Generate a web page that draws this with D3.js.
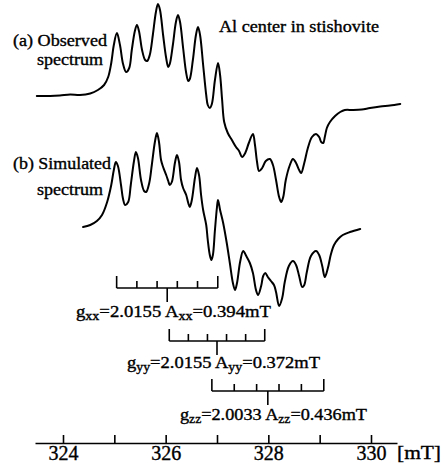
<!DOCTYPE html>
<html>
<head>
<meta charset="utf-8">
<script src="https://cdn.jsdelivr.net/npm/d3@7/dist/d3.min.js"></script>
<style>
  html, body { margin: 0; padding: 0; background: #fff; }
  svg { display: block; }
  text { font-family: "Liberation Serif", "Times New Roman", serif; fill: #000; stroke: #000; stroke-width: 0.35px; }
</style>
</head>
<body>
<svg id="chart" width="446" height="468"></svg>
<script>
// ---------- data ----------
// magnetic field (mT) and first-derivative EPR intensity (arbitrary units)
const observedField = [323.49,323.75,323.94,324.14,324.33,324.53,324.68,324.80,324.88,324.94,
  324.99,325.05,325.11,325.17,325.23,325.29,325.34,325.40,325.44,325.48,
  325.54,325.60,325.64,325.69,325.75,325.81,325.85,325.89,325.95,326.01,
  326.05,326.08,326.14,326.20,326.24,326.28,326.34,326.40,326.44,326.47,
  326.53,326.59,326.63,326.67,326.73,326.79,326.82,326.86,326.90,326.96,
  327.02,327.06,327.10,327.14,327.21,327.29,327.37,327.43,327.49,327.55,
  327.62,327.70,327.74,327.78,327.82,327.88,327.95,328.03,328.09,328.15,
  328.21,328.25,328.29,328.34,328.42,328.48,328.54,328.60,328.64,328.70,
  328.77,328.85,328.93,328.99,329.03,329.07,329.10,329.14,329.20,329.30,
  329.40,329.49,329.65,329.82,329.98,330.18,330.37,330.57];
const observedSignal = [7,7,7.5,8.5,8,9.5,13,18,26,40,
  58,70,58,39,31,35,53,72,78,72,
  53,43,42,48,68,91,99,93,68,45,
  36,39,58,81,88,81,55,30,22,24,
  43,68,76,68,38,8,-2,-5,-1,23,
  40,28,3,-19,-30,-37,-44,-48,-54,-50,
  -40,-31,-42,-59,-68,-65,-58,-56,-62,-77,
  -94,-99,-94,-77,-62,-56,-60,-67,-70,-60,
  -45,-34,-31,-34,-39,-40,-34,-25,-19,-13,
  -9,-7,-7,-6.5,-5,-3.5,-2.5,-1];

const simulatedField = [324.39,324.53,324.66,324.76,324.86,324.94,324.99,325.03,325.07,325.13,
  325.17,325.21,325.27,325.32,325.38,325.42,325.46,325.52,325.58,325.62,
  325.68,325.73,325.79,325.83,325.87,325.91,325.95,326.01,326.05,326.08,
  326.12,326.18,326.22,326.26,326.30,326.34,326.40,326.44,326.47,326.51,
  326.57,326.61,326.65,326.69,326.73,326.79,326.82,326.86,326.89,326.92,
  326.96,327.00,327.02,327.06,327.12,327.19,327.25,327.31,327.35,327.39,
  327.45,327.51,327.57,327.64,327.70,327.76,327.80,327.86,327.90,327.94,
  327.99,328.05,328.11,328.15,328.21,328.27,328.32,328.40,328.48,328.54,
  328.60,328.66,328.70,328.75,328.83,328.93,328.99,329.05,329.10,329.16,
  329.22,329.28,329.36,329.45,329.59,329.79];
const simulatedSignal = [-7,-5,-1,5,18,35,50,58,54,35,
  21,15,18,35,58,68,62,40,29,28,
  37,55,78,87,78,60,53,45,39,35,
  38,57,65,58,40,32,25,17,13,20,
  42,52,45,25,10,-5,-20,-35,-40,-35,
  -10,13,20,10,-3,-23,-43,-63,-70,-63,
  -42,-31,-36,-43,-53,-70,-75,-66,-56,-53,
  -57,-61,-65,-72,-86,-78,-62,-46,-41,-45,
  -56,-67,-65,-52,-36,-31,-35,-46,-57,-48,
  -34,-25,-19,-15,-12,-9];

// hyperfine stick diagrams (27Al, I = 5/2 -> 6 lines)
const hfNames   = ["xx", "yy", "zz"];
const hfG       = ["2.0155", "2.0155", "2.0033"];
const hfA       = [0.394, 0.372, 0.436];        // mT
const hfCenter  = [326.03, 327.00, 327.99];     // mT, centre of each pattern as drawn
const nLines = 6;

const axisTicks = [324, 325, 326, 327, 328, 329, 330];
const axisLabels = [324, 326, 328, 330];
const axisUnit = "[mT]";
const titleText = "Al center in stishovite";

// ---------- layout ----------
const svg = d3.select("#chart");
const x = d3.scaleLinear().domain([324, 330]).range([63, 371]);
const yObs = d3.scaleLinear().domain([-100, 100]).range([203, 3]);
const ySim = d3.scaleLinear().domain([-90, 90]).range([310, 130]);

const lineW = 2;
function drawSpectrum(fields, signal, y) {
  const pts = fields.map((f, i) => [f, signal[i]]);
  const line = d3.line().x(d => x(d[0])).y(d => y(d[1])).curve(d3.curveCatmullRom.alpha(0.5));
  svg.append("path").datum(pts).attr("d", line)
    .attr("fill", "none").attr("stroke", "#000").attr("stroke-width", lineW)
    .attr("stroke-linejoin", "round").attr("stroke-linecap", "round");
}
drawSpectrum(observedField, observedSignal, yObs);
drawSpectrum(simulatedField, simulatedSignal, ySim);

// text helper
function label(txt, px, py, size, len) {
  const t = svg.append("text").attr("x", px).attr("y", py).attr("font-size", size).text(txt);
  if (len) t.attr("textLength", len).attr("lengthAdjust", "spacingAndGlyphs");
  return t;
}
label(titleText, 219, 32, 16, 160);
label("(a) Observed", 13, 46, 16, 94);
label("spectrum", 37, 65, 16, 66);
label("(b) Simulated", 13, 169, 16, 98);
label("spectrum", 37, 195, 16, 66);

// stick diagrams
const hfBase = [288, 341, 391];
const endTick = 12, innerTick = 7, stem = 14;
const hfLabelPos = [[76, 317, 195], [127, 368, 193], [180, 420, 187]];
hfNames.forEach((nm, j) => {
  const g = svg.append("g").attr("stroke", "#000").attr("stroke-width", 1.6).attr("fill", "none");
  const sticks = d3.range(nLines).map(k => hfCenter[j] + (k - (nLines - 1) / 2) * hfA[j]);
  const yb = hfBase[j];
  g.append("line").attr("x1", x(sticks[0])).attr("x2", x(sticks[nLines - 1])).attr("y1", yb).attr("y2", yb);
  sticks.forEach((s, k) => {
    const h = (k === 0 || k === nLines - 1) ? endTick : innerTick;
    g.append("line").attr("x1", x(s)).attr("x2", x(s)).attr("y1", yb).attr("y2", yb - h);
  });
  g.append("line").attr("x1", x(hfCenter[j])).attr("x2", x(hfCenter[j])).attr("y1", yb).attr("y2", yb + stem);

  const [lx, ly, ll] = hfLabelPos[j];
  const t = svg.append("text").attr("x", lx).attr("y", ly).attr("font-size", 16)
    .attr("textLength", ll).attr("lengthAdjust", "spacingAndGlyphs");
  t.append("tspan").text("g");
  t.append("tspan").attr("font-size", 12).attr("dy", 3).text(nm);
  t.append("tspan").attr("dy", -3).text("=" + hfG[j] + " A");
  t.append("tspan").attr("font-size", 12).attr("dy", 3).text(nm);
  t.append("tspan").attr("dy", -3).text("=" + hfA[j].toFixed(3) + "mT");
});

// field axis
const axisScale = d3.scaleLinear().domain([x.invert(35), x.invert(397)]).range([35, 397]);
const axis = d3.axisBottom(axisScale)
  .tickValues(axisTicks)
  .tickSizeInner(-8).tickSizeOuter(0).tickPadding(3)
  .tickFormat(d => axisLabels.includes(d) ? String(d) : "");
const ag = svg.append("g").attr("transform", "translate(0,443)").call(axis);
ag.select(".domain").attr("stroke", "#000").attr("stroke-width", 1.6);
ag.selectAll(".tick line").attr("stroke", "#000").attr("stroke-width", 1.6);
ag.selectAll(".tick text").attr("font-family", "Liberation Serif, serif").attr("font-size", 20)
  .attr("fill", "#000").attr("dy", "0.71em");
label(axisUnit, 397, 459, 18, 44);
</script>
</body>
</html>
